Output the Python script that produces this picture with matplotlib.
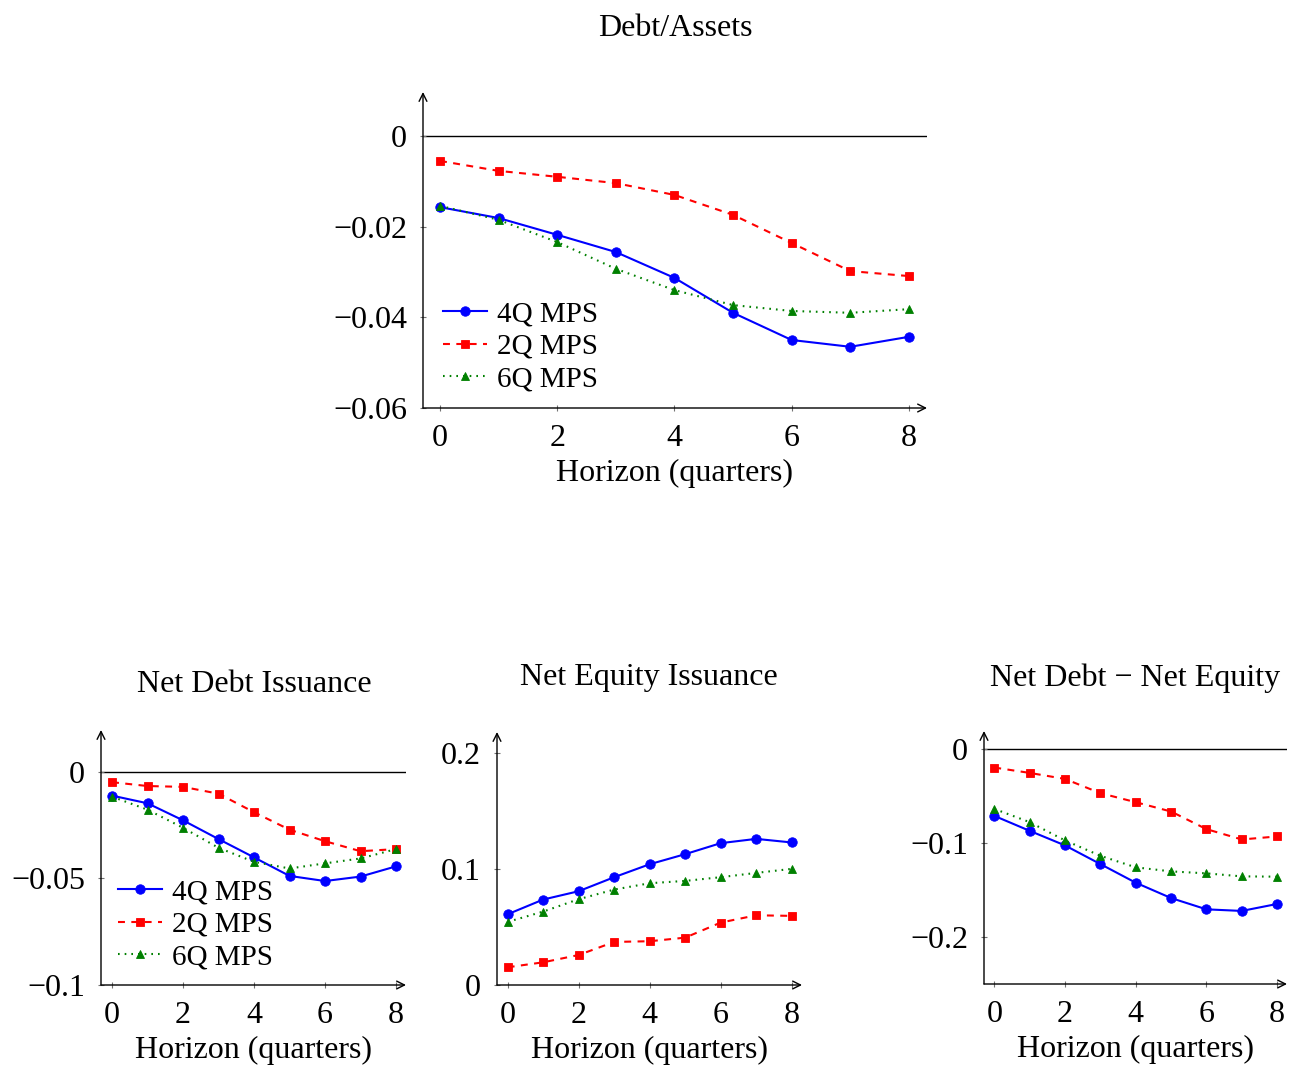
import matplotlib.pyplot as plt

plt.rcParams['font.family'] = ['Liberation Serif', 'DejaVu Serif']
plt.rcParams['axes.unicode_minus'] = True
plt.rcParams['lines.scale_dashes'] = False

W, H = 1291, 1065
FS = 23
LEG_FS = 21

horizon = [0, 1, 2, 3, 4, 5, 6, 7, 8]
xticks = [0, 2, 4, 6, 8]
series_names = ['4Q MPS', '2Q MPS', '6Q MPS']

# Debt/Assets responses
da_4q = [-0.0157, -0.0181, -0.0218, -0.0256, -0.0313, -0.0390, -0.0450, -0.0465, -0.0443]
da_2q = [-0.0055, -0.0077, -0.0090, -0.0104, -0.0130, -0.0174, -0.0236, -0.0298, -0.0309]
da_6q = [-0.0154, -0.0185, -0.0234, -0.0293, -0.0340, -0.0373, -0.0386, -0.0390, -0.0382]
da_yticks = [-0.06, -0.04, -0.02, 0]
da_yticklabels = ['\u22120.06', '\u22120.04', '\u22120.02', '0']

# Net debt issuance
nd_4q = [-0.0111, -0.0147, -0.0227, -0.0315, -0.0401, -0.0488, -0.0512, -0.0491, -0.0443]
nd_2q = [-0.0048, -0.0066, -0.0070, -0.0102, -0.0189, -0.0271, -0.0325, -0.0372, -0.0362]
nd_6q = [-0.0116, -0.0177, -0.0262, -0.0356, -0.0422, -0.0453, -0.0429, -0.0406, -0.0362]
nd_yticks = [-0.1, -0.05, 0]
nd_yticklabels = ['\u22120.1', '\u22120.05', '0']

# Net equity issuance
ne_4q = [0.0611, 0.0738, 0.0810, 0.0931, 0.1043, 0.1130, 0.1225, 0.1262, 0.1231]
ne_2q = [0.0153, 0.0196, 0.0259, 0.0372, 0.0378, 0.0409, 0.0539, 0.0602, 0.0597]
ne_6q = [0.0545, 0.0634, 0.0741, 0.0824, 0.0879, 0.0899, 0.0931, 0.0968, 0.1003]
ne_yticks = [0, 0.1, 0.2]
ne_yticklabels = ['0', '0.1', '0.2']

# Net debt minus net equity
dd_4q = [-0.0714, -0.0873, -0.1028, -0.1226, -0.1424, -0.1587, -0.1707, -0.1724, -0.1650]
dd_2q = [-0.0201, -0.0258, -0.0322, -0.0473, -0.0569, -0.0668, -0.0855, -0.0965, -0.0933]
dd_6q = [-0.0640, -0.0781, -0.0975, -0.1138, -0.1261, -0.1304, -0.1325, -0.1357, -0.1360]
dd_yticks = [-0.2, -0.1, 0]
dd_yticklabels = ['\u22120.2', '\u22120.1', '0']

styles = [
    dict(color='blue', linestyle='-', marker='o', markersize=6.8),
    dict(color='red', dashes=(5.0, 4.6), marker='s', markersize=5.6),
    dict(color='green', dashes=(1.2, 3.6), marker='^', markersize=6.0),
]

fig = plt.figure(figsize=(W / 100, H / 100), dpi=100)


def add_panel(x0, x1, ytop, ybot, xlim, ylim, yticks, yticklabels, series):
    ax = fig.add_axes([x0 / W, 1 - ybot / H, (x1 - x0) / W, (ybot - ytop) / H])
    ax.set_xlim(*xlim)
    ax.set_ylim(*ylim)
    for s in ax.spines.values():
        s.set_visible(False)
    ax.patch.set_alpha(0)
    # axis lines with arrow heads
    arrow = dict(arrowstyle='->', color='black', lw=1.0, shrinkA=0, shrinkB=0,
                 mutation_scale=14)
    ax.annotate('', xy=(1, 0), xytext=(0, 0), xycoords='axes fraction',
                arrowprops=arrow)
    ax.annotate('', xy=(0, 1), xytext=(0, 0), xycoords='axes fraction',
                arrowprops=arrow)
    if ylim[0] < 0 < ylim[1]:
        ax.axhline(0, color='black', lw=1.0, zorder=1)
    for vals, name, st in zip(series, series_names, styles):
        ax.plot(horizon, vals, label=name, linewidth=1.5,
                markeredgewidth=0.6, markeredgecolor=st['color'], **st)
    ax.set_xticks(xticks)
    ax.set_xticklabels([str(t) for t in xticks])
    ax.set_yticks(yticks)
    ax.set_yticklabels(yticklabels)
    ax.tick_params(direction='inout', length=5, width=0.8, color='0.45',
                   labelsize=FS, pad=9)
    ax.set_xlabel('Horizon (quarters)', fontsize=FS, labelpad=4)
    return ax


ax_top = add_panel(423, 927, 92, 408, (-0.29, 8.31), (-0.06, 0.0097),
                   da_yticks, da_yticklabels, [da_4q, da_2q, da_6q])
ax_nd = add_panel(101, 406, 730, 985, (-0.31, 8.28), (-0.1, 0.0197),
                  nd_yticks, nd_yticklabels, [nd_4q, nd_2q, nd_6q])
ax_ne = add_panel(497, 802, 732, 985, (-0.30, 8.29), (0, 0.2185),
                  ne_yticks, ne_yticklabels, [ne_4q, ne_2q, ne_6q])
ax_dd = add_panel(984, 1287, 731, 984, (-0.29, 8.28), (-0.25, 0.0187),
                  dd_yticks, dd_yticklabels, [dd_4q, dd_2q, dd_6q])

leg_kw = dict(loc='upper left', frameon=False, fontsize=LEG_FS, numpoints=1,
              handlelength=1.5, handletextpad=0.34, labelspacing=0.21,
              borderpad=0, borderaxespad=0, bbox_transform=fig.transFigure)
ax_top.legend(bbox_to_anchor=(443 / W, 1 - 301 / H), **leg_kw)
ax_nd.legend(bbox_to_anchor=(118 / W, 1 - 879 / H), **leg_kw)

fig.text(675 / W, 1 - 28 / H, 'Debt/Assets', ha='center', va='center', fontsize=FS)
fig.text(254 / W, 1 - 684 / H, 'Net Debt Issuance', ha='center', va='center', fontsize=FS)
fig.text(649 / W, 1 - 678 / H, 'Net Equity Issuance', ha='center', va='center', fontsize=FS)
fig.text(1135 / W, 1 - 678 / H, 'Net Debt \u2212 Net Equity', ha='center', va='center',
         fontsize=FS)

fig.savefig('out.png', dpi=100)
